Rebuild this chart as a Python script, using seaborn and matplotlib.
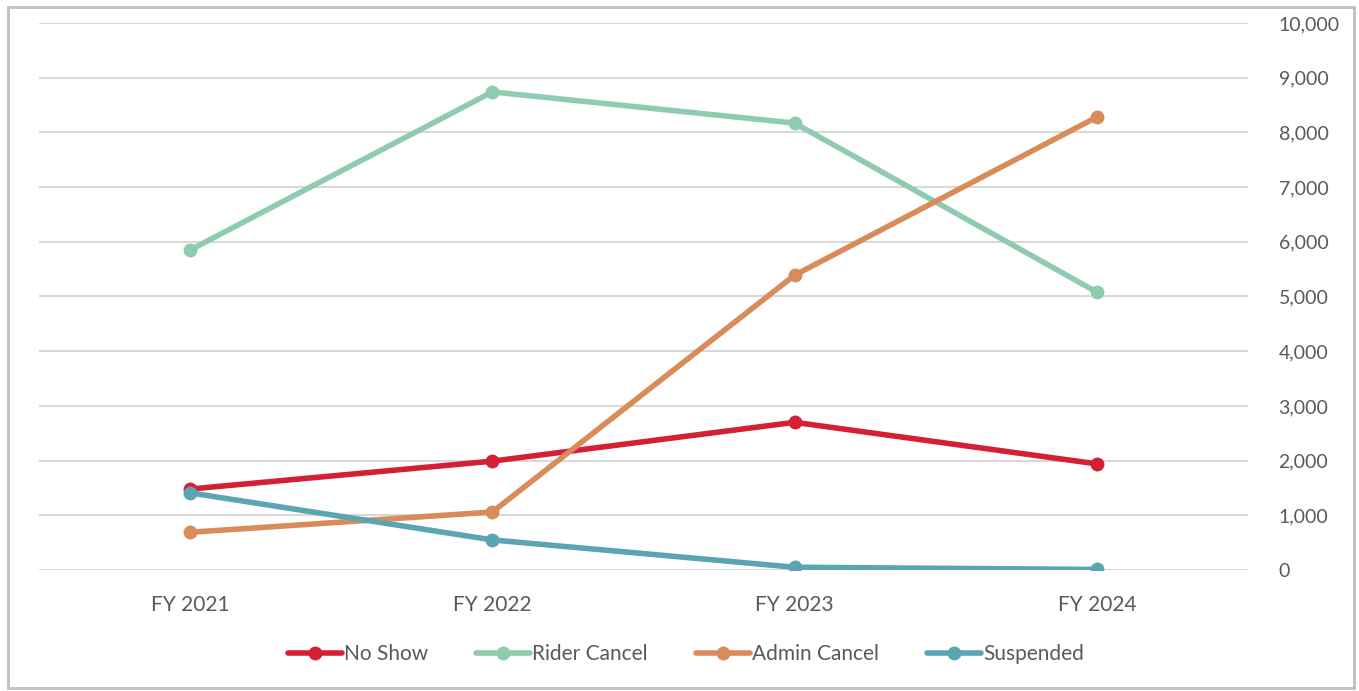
import seaborn as sns
from matplotlib import pyplot as plt
from matplotlib.patches import Rectangle
import matplotlib.ticker as ticker
import pandas as pd

years = ['FY 2021', 'FY 2022', 'FY 2023', 'FY 2024']
no_show = [1480, 1990, 2700, 1940]
rider_cancel = [5850, 8740, 8170, 5080]
admin_cancel = [690, 1060, 5390, 8280]
suspended = [1410, 550, 50, 10]

series = ['No Show', 'Rider Cancel', 'Admin Cancel', 'Suspended']
colors = ['#D42035', '#8FCBAF', '#D98B5A', '#5BA4B1']

df = pd.DataFrame({
    'year': years * 4,
    'value': no_show + rider_cancel + admin_cancel + suspended,
    'type': [s for s in series for _ in years],
})

sns.set_theme(style='white')
plt.rcParams['font.family'] = ['Lato', 'DejaVu Sans']
text_grey = '#595959'

fig = plt.figure(figsize=(13.59, 6.91), dpi=100)
ax = fig.add_axes([39 / 1359, 1 - 570 / 691, (1248 - 39) / 1359, (570 - 23) / 691])

g = sns.lineplot(data=df, x='year', y='value', hue='type', hue_order=series,
                 palette=colors, marker='o', markersize=10, markeredgewidth=0,
                 linewidth=4, sort=False, ax=ax, legend=True)

ax.set_xlim(-0.5, 3.5)
ax.set_ylim(0, 10000)
ax.yaxis.set_major_locator(ticker.MultipleLocator(1000))
ax.yaxis.set_major_formatter(ticker.StrMethodFormatter('{x:,.0f}'))
ax.yaxis.tick_right()
ax.grid(axis='y', color='#D9D9D9', linewidth=1.5)
ax.set_axisbelow(True)
for sp in ax.spines.values():
    sp.set_visible(False)
ax.tick_params(axis='y', length=0, pad=22, labelsize=14, labelcolor=text_grey)
ax.tick_params(axis='x', length=0, pad=18, labelsize=15, labelcolor=text_grey)
for lbl in ax.get_yticklabels():
    lbl.set_horizontalalignment('left')
ax.set_xlabel('')
ax.set_ylabel('')

handles, labels = ax.get_legend_handles_labels()
ax.legend_.remove()
fig.legend(handles, labels, loc='center', bbox_to_anchor=(686 / 1359, 1 - 654 / 691),
           ncol=4, frameon=False, fontsize=15, handlelength=2.6, handletextpad=0.1,
           columnspacing=2.3, labelcolor=text_grey)

fig.patches.append(Rectangle((8 / 1359, 3 / 691), 1346 / 1359, 681 / 691,
                             transform=fig.transFigure, fill=False,
                             edgecolor='#BFBFBF', linewidth=2))

plt.savefig('out.png', dpi=100)
